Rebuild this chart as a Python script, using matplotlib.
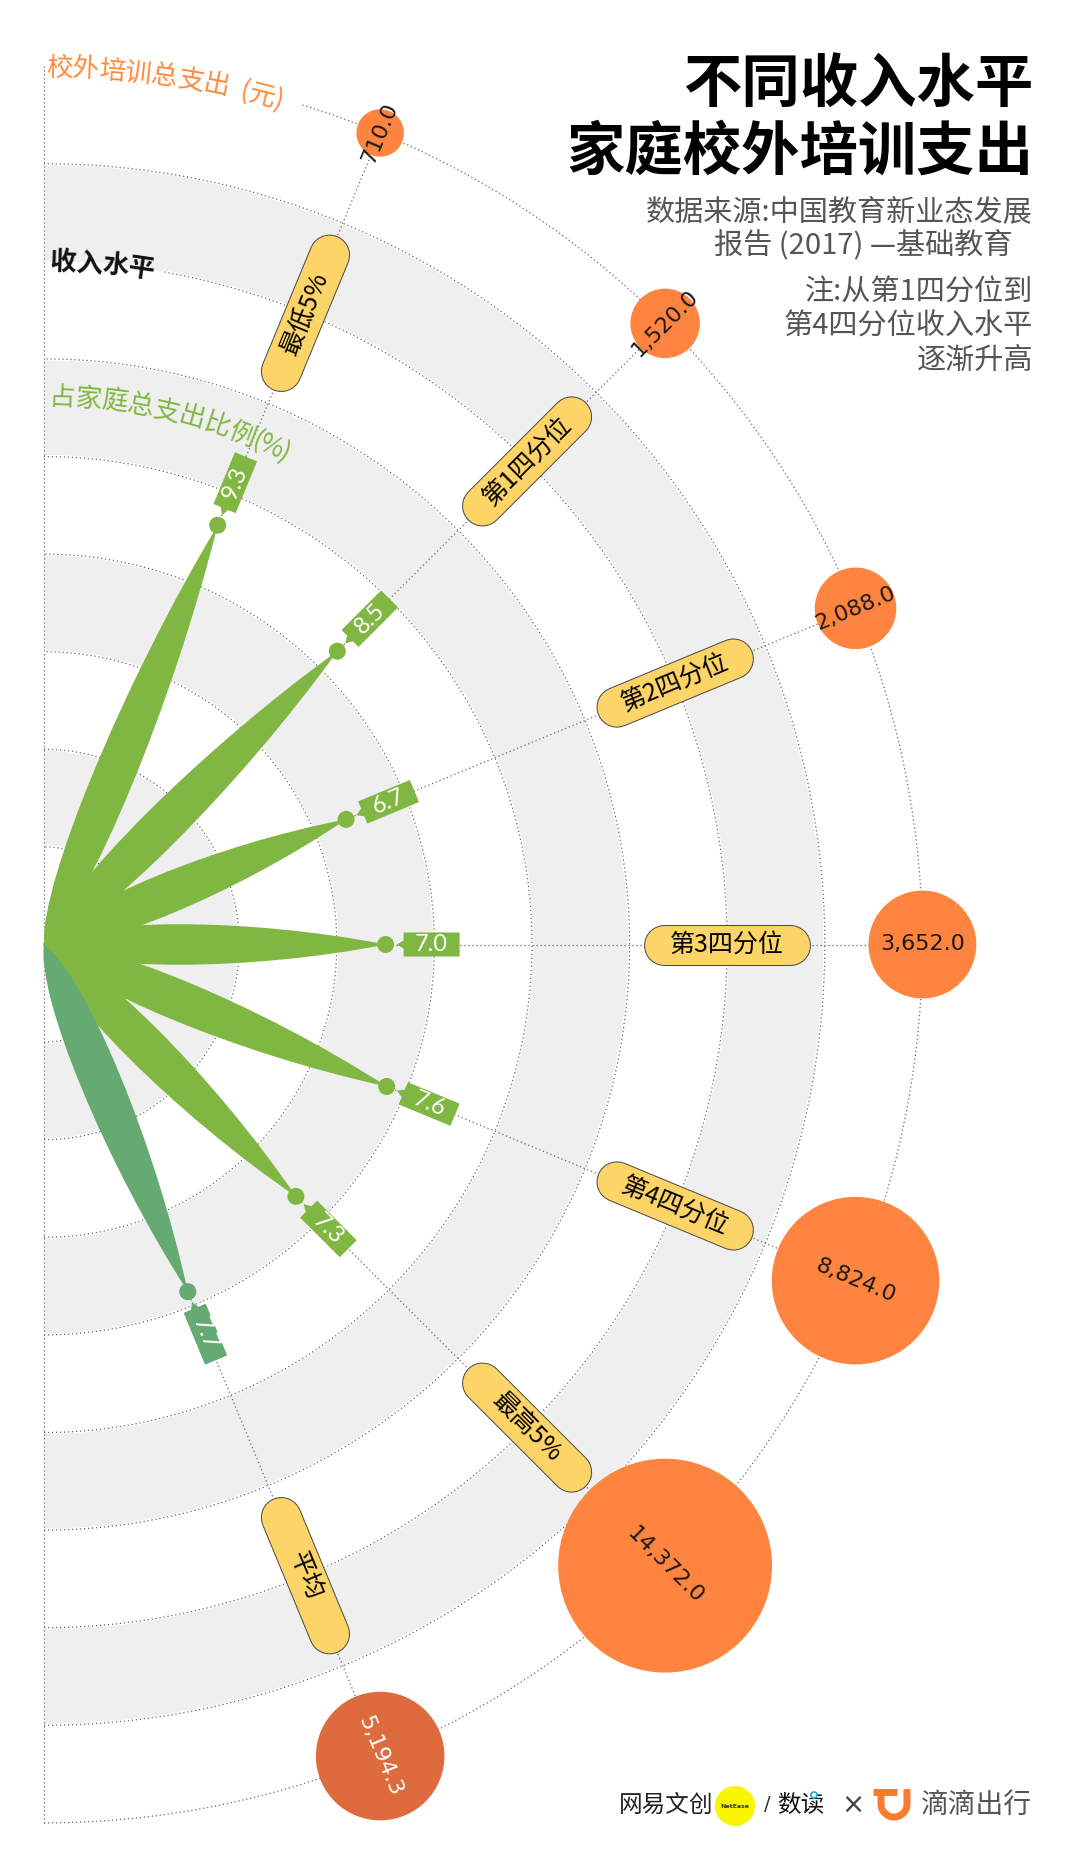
import numpy as np
import matplotlib
matplotlib.use('Agg')
import matplotlib.pyplot as plt
from matplotlib.patches import Polygon, Circle, Wedge, PathPatch
from matplotlib.path import Path

plt.rcParams['font.family'] = ['Noto Sans CJK SC', 'DejaVu Sans']

# ---------------- data ----------------
categories = ['最低5%', '第1四分位', '第2四分位', '第3四分位', '第4四分位', '最高5%', '平均']
share_pct = [9.3, 8.5, 6.7, 7.0, 7.6, 7.3, 7.7]          # 占家庭总支出比例 (%)
spend_yuan = [710.0, 1520.0, 2088.0, 3652.0, 8824.0, 14372.0, 5194.3]  # 校外培训总支出 (元)
is_average = [False, False, False, False, False, False, True]

ring_values = [2, 4, 6, 8, 10, 12, 14, 16, 18]
grey_bands = [(2, 4), (6, 8), (10, 12), (14, 16)]
label_ring = 14
bubble_ring = 18

title_lines = ['不同收入水平', '家庭校外培训支出']
source_lines = ['数据来源:中国教育新业态发展', '报告 (2017) —基础教育']
note_lines = ['注:从第1四分位到', '第4四分位收入水平', '逐渐升高']
label_spend = '校外培训总支出 (元)'
label_share = '占家庭总支出比例(%)'
label_income = '收入水平'

# ---------------- styles ----------------
GREEN = '#80B742'
GREEN_AVG = '#65A973'
ORANGE = '#FF843F'
ORANGE_AVG = '#DD6B3E'
PILL = '#FDD468'
BAND = '#EFEFEF'
DOT = '#6a6a6a'

W, H = 1080, 1868
PX = 48.8            # pixels per percentage unit
CX, CY = 44, 944.5   # pixel position of the centre

fig = plt.figure(figsize=(W / 100, H / 100), dpi=100)
ax = fig.add_axes([0, 0, 1, 1])
ax.set_xlim(-CX / PX, (W - CX) / PX)
ax.set_ylim(-(H - CY) / PX, CY / PX)
ax.axis('off')


def P(x, y):
    return ((x - CX) / PX, (CY - y) / PX)


def pt(px):
    return px * 72 / 100


def u(px):
    return px / PX


dotted = dict(color=DOT, lw=0.9, linestyle=(0, (1, 2.2)))

# ---------------- background bands ----------------
for r_in, r_out in grey_bands:
    ax.add_patch(Wedge((0, 0), r_out, -90, 90, width=r_out - r_in,
                       facecolor=BAND, edgecolor='none', zorder=0))

# ---------------- ring arcs ----------------
arc_end = {label_ring: 80.0, bubble_ring: 73.0}
for r in ring_values:
    end = arc_end.get(r, 90.0)
    th = np.radians(np.linspace(-90, end, 600))
    ax.plot(r * np.cos(th), r * np.sin(th), color='white', lw=2.2, zorder=1,
            solid_capstyle='butt')
    ax.plot(r * np.cos(th), r * np.sin(th), zorder=2, **dotted)

ax.plot([0, 0], [-bubble_ring, bubble_ring], zorder=2, **dotted)

# ---------------- spokes ----------------
n = len(categories)
angles = [90 - 22.5 * (i + 1) for i in range(n)]   # math angle, degrees
for a in angles:
    t = np.radians(a)
    ax.plot([0, bubble_ring * np.cos(t)], [0, bubble_ring * np.sin(t)], zorder=2, **dotted)

# ---------------- leaves ----------------
h = u(27)
for a, v, avg in zip(angles, share_pct, is_average):
    t = np.radians(a)
    d = np.array([np.cos(t), np.sin(t)])
    nrm = np.array([-np.sin(t), np.cos(t)])
    p0 = np.zeros(2)
    p3 = v * d
    p1a = 0.12 * v * d + h * nrm
    p2a = 0.60 * v * d + h * nrm
    p1b = 0.12 * v * d - h * nrm
    p2b = 0.60 * v * d - h * nrm
    verts = [p0, p1a, p2a, p3, p2b, p1b, p0, p0]
    codes = [Path.MOVETO, Path.CURVE4, Path.CURVE4, Path.CURVE4,
             Path.CURVE4, Path.CURVE4, Path.CURVE4, Path.CLOSEPOLY]
    col = GREEN_AVG if avg else GREEN
    ax.add_patch(PathPatch(Path(verts, codes), facecolor=col, edgecolor='none', zorder=4))
    ax.add_patch(Circle(tuple(p3), u(8.5), facecolor=col, edgecolor='none', zorder=5))

    # value tag
    R = v
    s0, s1, s2, hw = u(11), u(18), u(74), u(12)
    local = [(s0, 0), (s1, -u(4)), (s1, -hw), (s2, -hw), (s2, hw), (s1, hw), (s1, u(4))]
    poly = [tuple((R + s) * d + p * nrm) for s, p in local]
    ax.add_patch(Polygon(poly, closed=True, facecolor=col, edgecolor='none', zorder=5))
    tc = (R + u(46)) * d
    ax.text(tc[0], tc[1], f'{v:.1f}', rotation=a, rotation_mode='anchor',
            ha='center', va='center', color='white', fontsize=17,
            family=['Lato', 'DejaVu Sans'], zorder=6)

# ---------------- category pills ----------------
for a, cat in zip(angles, categories):
    t = np.radians(a)
    d = np.array([np.cos(t), np.sin(t)])
    c = label_ring * d
    e0 = c - u(63) * d
    e1 = c + u(63) * d
    ax.plot([e0[0], e1[0]], [e0[1], e1[1]], color='#4a4a4a', lw=pt(41),
            solid_capstyle='round', zorder=7)
    ax.plot([e0[0], e1[0]], [e0[1], e1[1]], color=PILL, lw=pt(39),
            solid_capstyle='round', zorder=7)
    ax.text(c[0], c[1], cat, rotation=a, rotation_mode='anchor', ha='center',
            va='center', fontsize=18, color='black', zorder=8)

# ---------------- bubbles ----------------
for a, val, avg in zip(angles, spend_yuan, is_average):
    t = np.radians(a)
    c = bubble_ring * np.array([np.cos(t), np.sin(t)])
    rad = u(0.892 * np.sqrt(val))
    ax.add_patch(Circle(tuple(c), rad, facecolor=ORANGE_AVG if avg else ORANGE,
                        edgecolor='none', zorder=9))
    ax.text(c[0], c[1], f'{val:,.1f}', rotation=a, rotation_mode='anchor',
            ha='center', va='center', fontsize=16,
            color='white' if avg else '#1a1a1a', family=['DejaVu Sans'], zorder=10)


# ---------------- curved axis labels ----------------
ADV = {'(': 0.33, ')': 0.33, '%': 0.8, ' ': 0.45}


def curved(text, r_px, first_deg, fs, color, weight='normal'):
    em = fs * 100 / 72
    r = u(r_px)
    pos = 0.0
    first_half = ADV.get(text[0], 1.0) / 2
    for ch in text:
        a = ADV.get(ch, 1.0)
        centre = pos + a / 2 - first_half
        ang = np.radians(first_deg) + centre * em / r_px
        pos += a
        if ch == ' ':
            continue
        rb = r - u(0.36 * em)
        x, y = rb * np.sin(ang), rb * np.cos(ang)
        ax.text(x, y, ch, rotation=-np.degrees(ang), rotation_mode='anchor',
                ha='center', va='baseline', fontsize=fs, color=color,
                fontweight=weight, zorder=11)


curved(label_spend, 878, 1.0, 19, '#FF8A3D')
curved(label_income, 684, 1.6, 19, '#111111', weight='bold')
curved(label_share, 549, 1.9, 19, GREEN)

# ---------------- title & notes ----------------
for i, line in enumerate(title_lines):
    x, y = P(1033, 86 + 67 * i)
    ax.text(x, y, line, ha='right', va='center', fontsize=42, fontweight='black',
            color='black', zorder=12)
x, y = P(1033, 212)
ax.text(x, y, source_lines[0], ha='right', va='center', fontsize=21, color='#555555')
x, y = P(1012, 245)
ax.text(x, y, source_lines[1], ha='right', va='center', fontsize=21, color='#555555')
for i, line in enumerate(note_lines):
    x, y = P(1033, 293 + 34 * i)
    ax.text(x, y, line, ha='right', va='center', fontsize=21, color='#555555')

# ---------------- footer logos ----------------
x, y = P(619, 1805)
ax.text(x, y, '网易文创', ha='left', va='center', fontsize=17, color='#222222')
cx_, cy_ = P(735, 1806)
ax.add_patch(Circle((cx_, cy_), u(20), facecolor='#FAF500', edgecolor='none', zorder=3))
ax.text(cx_, cy_, 'NetEase', ha='center', va='center', fontsize=4.5, color='#333333',
        family=['DejaVu Sans'], fontweight='bold', zorder=4)
x, y = P(767, 1805)
ax.text(x, y, '/', ha='center', va='center', fontsize=14, color='#333333', family=['DejaVu Sans'])
x, y = P(777, 1805)
ax.text(x, y, '数读', ha='left', va='center', fontsize=17, color='#111111')
bx, by = P(814, 1795)
ax.add_patch(Circle((bx, by), u(3), facecolor='white', edgecolor='#29A9E0', lw=1.2, zorder=4))
x, y = P(853, 1805)
ax.text(x, y, '×', ha='center', va='center', fontsize=20, color='#444444',
        family=['DejaVu Sans'])
# DiDi logo (U-shape with top bar)
lw_logo = pt(7)
pts_bar = [P(873, 1792), P(897, 1792)]
ax.plot([p[0] for p in pts_bar], [p[1] for p in pts_bar], color='#FF7A2F', lw=lw_logo,
        solid_capstyle='butt')
th = np.radians(np.linspace(180, 360, 60))
ucx, ucy = P(894, 1804)
rr = u(13)
xs = [P(881, 1792)[0]] + list(ucx + rr * np.cos(th)) + [P(907, 1789)[0]]
ys = [P(881, 1792)[1]] + list(ucy + rr * np.sin(th)) + [P(907, 1789)[1]]
ax.plot(xs, ys, color='#FF7A2F', lw=lw_logo, solid_capstyle='butt', solid_joinstyle='round')
x, y = P(921, 1805)
ax.text(x, y, '滴滴出行', ha='left', va='center', fontsize=20, color='#555555')

fig.savefig('out.png', dpi=100)
